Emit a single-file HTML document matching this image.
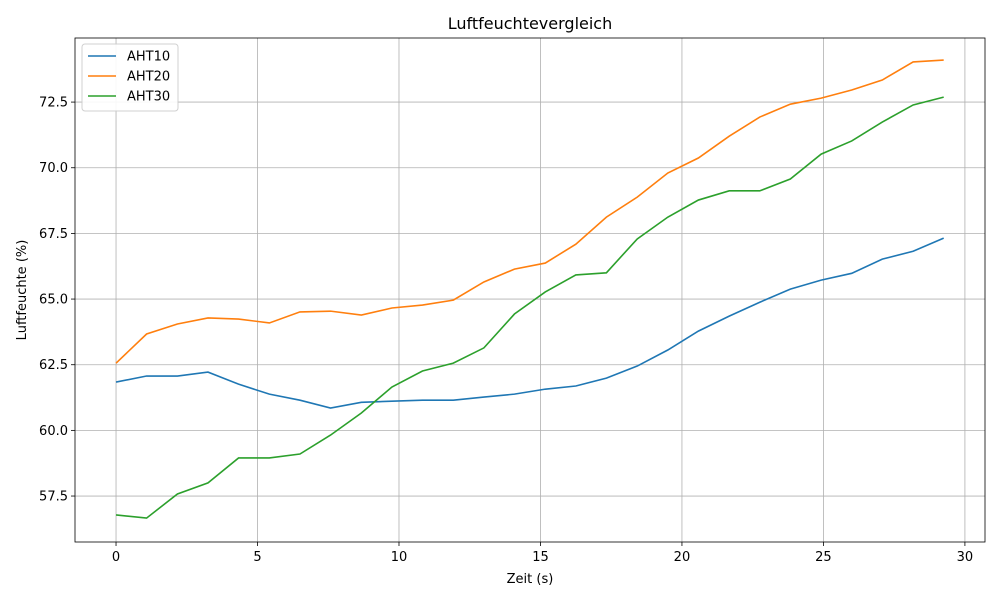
<!DOCTYPE html>
<html><head><meta charset="utf-8"><style>
body{margin:0;background:#fff;font-family:"Liberation Sans","DejaVu Sans",sans-serif}
svg text{font-family:"DejaVu Sans","Liberation Sans",sans-serif;font-size:13px;fill:#000}
</style></head><body>
<svg id="chart" width="1000" height="600" xmlns="http://www.w3.org/2000/svg"></svg>
<script>
const times=[0,1.08,2.17,3.25,4.33,5.42,6.5,7.58,8.67,9.75,10.83,11.92,13,14.08,15.17,16.25,17.33,18.42,19.5,20.58,21.67,22.75,23.83,24.92,26,27.08,28.17,29.25];
const aht10=[61.84,62.07,62.07,62.22,61.76,61.38,61.15,60.85,61.07,61.11,61.15,61.15,61.27,61.38,61.57,61.69,61.99,62.45,63.06,63.78,64.35,64.88,65.38,65.72,65.98,66.52,66.82,67.32];
const aht20=[62.56,63.67,64.05,64.28,64.24,64.09,64.51,64.54,64.39,64.66,64.77,64.96,65.65,66.14,66.37,67.09,68.12,68.88,69.80,70.37,71.20,71.93,72.42,72.65,72.96,73.34,74.03,74.10];
const aht30=[56.78,56.66,57.58,58.00,58.95,58.95,59.10,59.82,60.66,61.65,62.26,62.56,63.14,64.43,65.27,65.92,66.00,67.29,68.12,68.77,69.12,69.12,69.57,70.52,71.02,71.74,72.39,72.69];
const xTicks=[0,5,10,15,20,25,30];
const yTicks=[57.5,60.0,62.5,65.0,67.5,70.0,72.5];
const seriesNames=["AHT10","AHT20","AHT30"];
const colors=["#1f77b4","#ff7f0e","#2ca02c"];

const L=75,R=985,T=38,B=542;
const xMin=-1.45,xMax=30.71,yMin=55.75,yMax=74.94;
const X=v=>L+(v-xMin)/(xMax-xMin)*(R-L);
const Y=v=>B-(v-yMin)/(yMax-yMin)*(B-T);
const svg=document.getElementById('chart');
const NS="http://www.w3.org/2000/svg";
function mk(tag,attrs,parent){const e=document.createElementNS(NS,tag);for(const k in attrs)e.setAttribute(k,attrs[k]);(parent||svg).appendChild(e);return e;}

xTicks.forEach(t=>{
  const g=mk('line',{x1:X(t),x2:X(t),y1:T,y2:B,stroke:'#b0b0b0','stroke-width':0.8});
  
  
  mk('line',{x1:X(t),x2:X(t),y1:B,y2:B+4,stroke:'#000','stroke-width':0.8});
  const tx=mk('text',{x:X(t),y:B+19,'text-anchor':'middle'});tx.textContent=t;
  
  
});
yTicks.forEach(t=>{
  const g=mk('line',{x1:L,x2:R,y1:Y(t),y2:Y(t),stroke:'#b0b0b0','stroke-width':0.8});
  
  
  mk('line',{x1:L-4,x2:L,y1:Y(t),y2:Y(t),stroke:'#000','stroke-width':0.8});
  const tx=mk('text',{x:L-7,y:Y(t)+4.5,'text-anchor':'end'});tx.textContent=t.toFixed(1);
  
  
});
[aht10,aht20,aht30].forEach((s,i)=>{
  const p=mk('polyline',{points:s.map((v,j)=>X(times[j])+','+Y(v)).join(' '),fill:'none',stroke:colors[i],'stroke-width':1.6});
  
  
});
const frame=mk('rect',{x:L,y:T,width:R-L,height:B-T,fill:'none',stroke:'#000','stroke-width':0.8});



const title=mk('text',{x:(L+R)/2,y:29,'text-anchor':'middle','font-size':16});title.textContent='Luftfeuchtevergleich';title.style.fontSize='16px';


const xl=mk('text',{x:(L+R)/2,y:583,'text-anchor':'middle'});xl.textContent='Zeit (s)';


const yl=mk('text',{x:0,y:0,'text-anchor':'middle',transform:'translate(26,290) rotate(-90)'});yl.textContent='Luftfeuchte (%)';



const lg=mk('g',{});


mk('rect',{x:82,y:44,width:96,height:67,rx:3,fill:'#fff',stroke:'#ccc','stroke-width':1,opacity:0.9},lg);
seriesNames.forEach((n,i)=>{
  const y=56+i*20;
  mk('line',{x1:88,x2:116,y1:y,y2:y,stroke:colors[i],'stroke-width':1.6},lg);
  const t=mk('text',{x:127,y:y+4.5},lg);t.textContent=n;
  
  
});
</script>
</body></html>
